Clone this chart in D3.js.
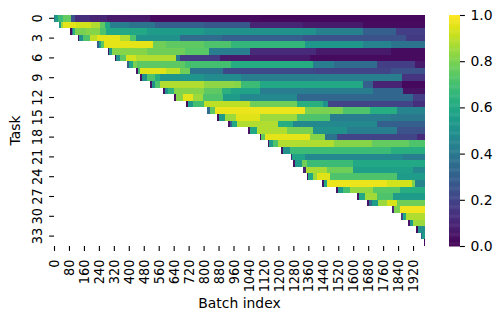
<!DOCTYPE html>
<html>
<head>
<meta charset="utf-8">
<script src="https://cdn.jsdelivr.net/npm/d3@7"></script>
<style>
  body { margin: 0; background: #fff; }
  svg { display: block; }
  text { font-family: "DejaVu Sans", sans-serif; fill: #000; }
</style>
</head>
<body>
<svg></svg>
<script>
const nBatches = 1984;
const xTicks = d3.range(0, 1921, 80);
const yTicks = d3.range(0, 34, 3);
const cbarTicks = [0, 0.2, 0.4, 0.6, 0.8, 1];

// one list per task: [first batch, value] steps
const task0 = [[0,.42],[4,.55],[22,.68],[49,.76],[90,.25],[111,.13],[191,.1],[281,.07],[512,.03],[1100,.02]];
const task1 = [[26,.55],[36,.85],[49,.96],[120,.93],[200,.88],[245,.75],[272,.6],[298,.42],[400,.38],[540,.3],[800,.27],[1047,.1],[1330,.07],[1654,.03]];
const task2 = [[84,.03],[95,.4],[103,.65],[112,.8],[170,.82],[245,.72],[280,.6],[500,.55],[800,.5],[1400,.43],[1654,.3],[1830,.18]];
const task3 = [[127,.05],[133,.5],[155,.72],[191,.9],[230,.96],[352,.88],[405,.72],[438,.5],[673,.35],[900,.3],[1333,.25],[1885,.17]];
const task4 = [[229,.3],[241,.55],[253,.75],[265,.96],[530,.78],[600,.75],[800,.72],[945,.66],[1340,.53],[1654,.45],[1800,.38]];
const task5 = [[288,.05],[296,.55],[312,.82],[500,.78],[700,.74],[828,.42],[1047,.12],[1400,.07],[1800,.03]];
const task6 = [[325,.03],[334,.5],[352,.75],[385,.93],[440,.88],[655,.4],[673,.17],[887,.07],[1368,.03]];
const task7 = [[389,.3],[400,.6],[420,.8],[445,.75],[700,.7],[945,.62],[1386,.42],[1500,.35],[1725,.18],[1930,.07]];
const task8 = [[437,.05],[447,.7],[458,.95],[600,.9],[673,.78],[726,.38],[905,.22],[1400,.2],[1800,.25]];
const task9 = [[459,.05],[470,.5],[495,.72],[540,.62],[565,.52],[800,.48],[1000,.42],[1860,.15]];
const task10 = [[512,.05],[522,.5],[540,.72],[566,.88],[800,.83],[960,.82],[1000,.68],[1100,.6],[1654,.3],[1707,.1],[1860,.02]];
const task11 = [[581,.05],[592,.5],[610,.65],[640,.82],[800,.75],[900,.64],[945,.58],[1100,.42],[1707,.33],[1868,.05]];
const task12 = [[640,.03],[652,.82],[690,.96],[744,.85],[797,.72],[905,.55],[994,.47],[1297,.33],[1921,.18]];
const task13 = [[705,.03],[716,.55],[745,.7],[800,.9],[1047,.78],[1297,.63],[1440,.5],[1467,.2],[1921,.14]];
const task14 = [[817,.35],[833,.75],[860,.97],[1340,.8],[1547,.72],[1690,.62],[1832,.45]];
const task15 = [[870,.03],[881,.55],[913,.85],[975,.95],[1100,.85],[1300,.72],[1475,.42],[1800,.4]];
const task16 = [[930,.05],[942,.3],[950,.6],[976,.88],[1199,.62],[1280,.47],[1725,.3]];
const task17 = [[1038,.05],[1047,.6],[1083,.88],[1244,.8],[1386,.5],[1565,.42],[1832,.25]];
const task18 = [[1100,.03],[1106,.75],[1128,.96],[1368,.82],[1449,.38],[1511,.2],[1939,.12]];
const task19 = [[1143,.05],[1151,.55],[1172,.72],[1199,.88],[1500,.82],[1700,.76],[1900,.72]];
const task20 = [[1213,.05],[1226,.5],[1262,.68],[1500,.68],[1800,.63]];
const task21 = [[1266,.1],[1272,.58],[1342,.47],[1868,.42]];
const task22 = [[1277,.05],[1288,.55],[1324,.78],[1351,.68],[1600,.6]];
const task23 = [[1330,.1],[1345,.87],[1458,.78],[1600,.56],[1921,.47]];
const task24 = [[1352,.05],[1360,.6],[1386,.85],[1404,.95],[1475,.72],[1832,.55]];
const task25 = [[1432,.05],[1444,.6],[1458,.97],[1779,.93],[1912,.8],[1930,.45]];
const task26 = [[1507,.05],[1520,.55],[1547,.7],[1582,.84],[1707,.74],[1850,.62]];
const task27 = [[1619,.05],[1630,.6],[1663,.86],[1725,.72],[1814,.55]];
const task28 = [[1673,.05],[1686,.35],[1700,.55],[1734,.85],[1779,.94],[1832,.78]];
const task29 = [[1806,.1],[1817,.8],[1850,.98]];
const task30 = [[1855,.2],[1868,.6],[1885,.88]];
const task31 = [[1892,.05],[1903,.55],[1921,.85]];
const task32 = [[1935,.03],[1948,.5]];
const task33 = [[1962,.3],[1970,.55]];
const task34 = [[1978,.02]];

const tasks = [task0,task1,task2,task3,task4,task5,task6,task7,task8,task9,task10,task11,task12,task13,task14,task15,task16,task17,task18,task19,task20,task21,task22,task23,task24,task25,task26,task27,task28,task29,task30,task31,task32,task33,task34];

const svg = d3.select("svg").attr("width", 501).attr("height", 321);

const xScale = d3.scaleLinear().domain([0, nBatches]).range([54, 425]);
const yScale = d3.scaleBand().domain(d3.range(tasks.length)).range([15, 246]);
const color = d3.scaleSequential(d3.interpolateViridis).domain([0, 1]);
const cbarScale = d3.scaleLinear().domain([0, 1]).range([246, 15]);

// heatmap
svg.append("g").selectAll("g")
  .data(tasks)
  .join("g")
  .each(function(steps, t) {
    d3.select(this).selectAll("rect")
      .data(steps)
      .join("rect")
      .attr("x", d => xScale(d[0]))
      .attr("y", yScale(t))
      .attr("width", (d, i) => xScale(i + 1 < steps.length ? steps[i + 1][0] : nBatches) - xScale(d[0]))
      .attr("height", yScale.bandwidth())
      .attr("fill", d => color(d[1]))
      .attr("shape-rendering", "crispEdges");
  });

const xAxis = d3.axisBottom(xScale).tickValues(xTicks).tickSize(4.9).tickFormat(d3.format("d"));
const yAxis = d3.axisLeft(yScale).tickValues(yTicks).tickSize(4.9);

const xAxisGroup = svg.append("g")
  .attr("transform", "translate(0,246)")
  .call(xAxis);
xAxisGroup.select(".domain").remove();
xAxisGroup.selectAll(".tick line").attr("stroke", "#000").attr("stroke-width", 1.1);
// rotated labels come out a bit shorter along their length in the reference
xAxisGroup.selectAll("text")
  .attr("font-size", 13.9)
  .attr("font-family", '"DejaVu Sans"')
  .attr("x", 0).attr("y", 0).attr("dy", null)
  .attr("text-anchor", "end")
  .attr("dominant-baseline", "central")
  .attr("transform", "translate(0,13.5) rotate(-90) scale(0.93,1)");

const yAxisGroup = svg.append("g")
  .attr("transform", "translate(54,0)")
  .call(yAxis);
yAxisGroup.select(".domain").remove();
yAxisGroup.selectAll(".tick line").attr("stroke", "#000").attr("stroke-width", 1.1);
yAxisGroup.selectAll("text")
  .attr("font-size", 13.9)
  .attr("font-family", '"DejaVu Sans"')
  .attr("x", 0).attr("y", 0).attr("dy", null)
  .attr("text-anchor", "middle")
  .attr("dominant-baseline", "central")
  .attr("transform", "translate(-17,0) rotate(-90) scale(0.93,1)");

svg.append("text")
  .attr("x", 239.5).attr("y", 308)
  .attr("text-anchor", "middle")
  .attr("font-size", 13.9)
  .text("Batch index");

svg.append("text")
  .attr("transform", "translate(20,130.5) rotate(-90)")
  .attr("text-anchor", "middle")
  .attr("font-size", 13.9)
  .text("Task");

// colorbar
const cbarLevels = d3.range(0, 1, 1 / 256);
svg.append("g").selectAll("rect")
  .data(cbarLevels)
  .join("rect")
  .attr("x", 449)
  .attr("width", 11)
  .attr("y", d => cbarScale(d + 1 / 256))
  .attr("height", cbarScale(0) - cbarScale(1 / 256) + 0.5)
  .attr("fill", d => color(d));

const cbarAxis = d3.axisRight(cbarScale).tickValues(cbarTicks).tickSize(4.9).tickPadding(5.5).tickFormat(d3.format(".1f"));
const cbarGroup = svg.append("g").attr("transform", "translate(460,0)").call(cbarAxis);
cbarGroup.select(".domain").remove();
cbarGroup.selectAll(".tick line").attr("stroke", "#000").attr("stroke-width", 1.1);
cbarGroup.selectAll("text").attr("font-size", 13.9).attr("font-family", '"DejaVu Sans"');
</script>
</body>
</html>
